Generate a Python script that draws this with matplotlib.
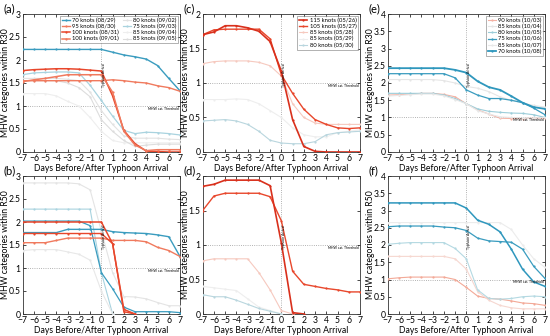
import matplotlib
matplotlib.use("Agg")
import matplotlib.pyplot as plt

plt.rcParams["font.family"] = ["Lato", "DejaVu Sans"]

days = list(range(-7, 8))
xticks = list(range(-7, 8))

# colours
TEAL = "#3a9cbf"
RED = "#e8472c"
SALMON = "#f07a5e"
LBLUE = "#a9d3df"
PALE = "#e2e2e2"
PINK = "#f6c9bf"

# ---- (a) R30, Aug/Sep ----
a_labels = ["70 knots (08/29)", "95 knots (08/30)", "100 knots (08/31)", "100 knots (09/01)",
            "80 knots (09/02)", "75 knots (09/03)", "85 knots (09/04)", "85 knots (09/05)"]
a_vals = [
    [2.23, 2.23, 2.23, 2.23, 2.23, 2.23, 2.23, 2.23, 2.17, 2.11, 2.07, 2.02, 1.88, 1.60, 1.33],
    [1.55, 1.55, 1.55, 1.55, 1.55, 1.55, 1.55, 1.55, 1.57, 1.55, 1.52, 1.50, 1.44, 1.40, 1.32],
    [1.77, 1.79, 1.80, 1.81, 1.81, 1.80, 1.78, 1.76, 1.22, 0.47, 0.18, 0.02, 0.01, 0.00, 0.00],
    [1.53, 1.57, 1.60, 1.64, 1.68, 1.68, 1.68, 1.68, 1.30, 0.45, 0.15, 0.03, 0.05, 0.05, 0.05],
    [1.60, 1.60, 1.60, 1.60, 1.58, 1.55, 1.30, 0.90, 0.60, 0.35, 0.30, 0.30, 0.30, 0.28, 0.27],
    [1.68, 1.72, 1.73, 1.74, 1.74, 1.72, 1.45, 1.12, 0.78, 0.47, 0.40, 0.43, 0.42, 0.40, 0.37],
    [1.27, 1.27, 1.27, 1.22, 1.10, 1.00, 0.75, 0.45, 0.25, 0.20, 0.20, 0.20, 0.20, 0.20, 0.20],
    [1.55, 1.55, 1.55, 1.55, 1.50, 1.40, 1.20, 0.70, 0.45, 0.25, 0.12, 0.15, 0.17, 0.17, 0.17],
]
# ---- (b) R50, Aug/Sep ----
b_vals = [
    [1.77, 1.77, 1.77, 1.77, 1.84, 1.84, 1.84, 1.84, 1.79, 1.77, 1.76, 1.75, 1.72, 1.68, 1.25],
    [1.55, 1.55, 1.55, 1.60, 1.65, 1.65, 1.65, 1.65, 1.60, 1.60, 1.60, 1.57, 1.45, 1.38, 1.25],
    [2.00, 2.00, 2.00, 2.00, 2.00, 2.00, 2.00, 2.00, 1.53, 0.10, 0.00, None, None, None, None],
    [1.75, 1.75, 1.75, 1.75, 1.75, 1.75, 1.75, 1.75, 1.53, 0.05, 0.00, None, None, None, None],
    [2.28, 2.28, 2.28, 2.28, 2.28, 2.28, 2.28, 0.90, 0.00, None, None, None, None, None, None],
    [2.02, 2.02, 2.02, 2.02, 2.02, 2.02, 1.92, 0.90, 0.55, 0.15, 0.05, 0.05, 0.05, 0.05, 0.03],
    [1.38, 1.40, 1.40, 1.40, 1.35, 1.30, 1.17, 0.50, 0.00, None, None, None, None, None, None],
    [2.85, 2.85, 2.85, 2.85, 2.85, 2.83, 2.70, 1.80, 0.90, 0.38, 0.37, 0.33, 0.25, 0.18, 0.18],
]
# ---- (c) R30, May ----
c_labels = ["115 knots (05/26)", "105 knots (05/27)", "85 knots (05/28)", "85 knots (05/29)",
            "80 knots (05/30)"]
c_vals = [
    [1.70, 1.74, 1.83, 1.83, 1.80, 1.75, 1.60, 1.17, 0.47, 0.08, 0.01, 0.00, 0.00, 0.00, 0.00],
    [1.70, 1.77, 1.78, 1.78, 1.78, 1.78, 1.64, 1.12, 0.85, 0.62, 0.47, 0.40, 0.35, 0.34, 0.35],
    [1.28, 1.31, 1.32, 1.32, 1.32, 1.30, 1.25, 1.10, 0.70, 0.50, 0.42, 0.40, 0.40, 0.40, 0.40],
    [0.76, 0.76, 0.76, 0.77, 0.76, 0.70, 0.60, 0.50, 0.35, 0.25, 0.22, 0.22, 0.28, 0.30, 0.32],
    [0.45, 0.46, 0.47, 0.45, 0.40, 0.30, 0.17, 0.13, 0.12, 0.12, 0.15, 0.25, 0.28, 0.29, 0.30],
]
# ---- (d) R50, May ----
d_vals = [
    [1.85, 1.88, 1.94, 1.94, 1.94, 1.94, 1.86, 1.03, 0.02, 0.00, None, None, None, None, None],
    [1.50, 1.71, 1.75, 1.75, 1.75, 1.75, 1.70, 1.35, 0.62, 0.43, 0.40, 0.37, 0.35, 0.32, 0.32],
    [0.77, 0.80, 0.80, 0.80, 0.80, 0.60, 0.35, 0.05, 0.00, None, None, None, None, None, None],
    [0.40, 0.38, 0.36, 0.34, 0.22, 0.10, 0.05, 0.00, None, None, None, None, None, None, None],
    [0.28, 0.25, 0.25, 0.20, 0.14, 0.08, 0.04, 0.00, None, None, None, None, None, None, None],
]
# ---- (e) R30, Oct ----
e_labels = ["90 knots (10/03)", "85 knots (10/04)", "80 knots (10/05)", "75 knots (10/06)",
            "85 knots (10/07)", "70 knots (10/08)"]
e_vals = [
    [1.65, 1.66, 1.68, 1.70, 1.70, 1.67, 1.60, 1.40, 1.22, 1.10, 0.98, 0.97, 0.97, 0.98, 0.98],
    [2.10, 2.10, 2.10, 2.10, 2.10, 2.07, 2.00, 1.90, 1.85, 1.75, 1.60, 1.50, 1.42, 1.35, 1.30],
    [1.70, 1.70, 1.70, 1.70, 1.70, 1.65, 1.55, 1.40, 1.25, 1.18, 1.15, 1.13, 1.12, 1.08, 1.00],
    [2.27, 2.27, 2.27, 2.27, 2.27, 2.27, 2.15, 1.80, 1.65, 1.55, 1.55, 1.50, 1.43, 1.27, 1.08],
    [1.62, 1.64, 1.66, 1.68, 1.68, 1.63, 1.52, 1.40, 1.20, 1.10, 1.02, 1.00, 0.98, 0.98, 1.00],
    [2.43, 2.43, 2.43, 2.43, 2.43, 2.43, 2.38, 2.30, 2.05, 1.88, 1.80, 1.62, 1.43, 1.30, 1.25],
]
# ---- (f) R50, Oct ----
f_vals = [
    [1.02, 1.05, 1.07, 1.07, 1.07, 1.07, 1.00, 0.77, 0.52, 0.45, 0.43, 0.38, 0.32, 0.30, 0.25],
    [1.67, 1.67, 1.67, 1.67, 1.67, 1.67, 1.60, 1.30, 0.65, 0.40, 0.25, 0.18, 0.15, 0.15, 0.15],
    [2.02, 2.05, 2.07, 2.07, 2.07, 2.07, 1.90, 1.60, 0.70, 0.45, 0.43, 0.45, 0.50, 0.52, 0.50],
    [2.53, 2.55, 2.55, 2.55, 2.55, 2.52, 2.50, 2.42, 2.20, 2.12, 2.10, 2.08, 1.88, 1.38, 1.03],
    [2.65, 2.65, 2.65, 2.65, 2.65, 2.65, 2.65, 2.65, 2.65, 2.65, 2.65, 2.45, 2.00, 1.60, 1.35],
    [3.22, 3.22, 3.22, 3.22, 3.22, 3.22, 3.22, 3.07, 2.72, 2.60, 2.38, 1.88, 1.30, 0.93, 0.80],
]

a_styles = [(TEAL, 1.0), (SALMON, 1.0), (RED, 1.1), (SALMON, 1.1),
            (PALE, 0.8), (LBLUE, 0.9), ("#eeeeee", 0.8), ("#dddddd", 0.8)]
b_styles = [(TEAL, 1.0), (SALMON, 1.0), (RED, 1.1), (RED, 1.0),
            (LBLUE, 0.8), (TEAL, 0.9), ("#e8e8e8", 0.8), ("#e4e4e4", 0.8)]
c_styles = [("#d9301c", 1.2), (RED, 1.0), (PINK, 0.8), ("#eeeeee", 0.8), ("#b9d6de", 0.8)]
e_styles = [("#f4b2a4", 0.8), ("#e6e6e6", 0.8), ("#9ccdd9", 0.8), (TEAL, 0.9),
            ("#e8e8e8", 0.8), ("#2f97bd", 1.3)]
f_styles = [("#f3a997", 0.8), ("#f6d7d0", 0.8), ("#b4d9e2", 0.8), (TEAL, 0.9),
            ("#ececec", 0.8), ("#2f97bd", 1.1)]

W, H = 550, 336
fig = plt.figure(figsize=(W / 100, H / 100), dpi=100)

lefts = [22.7, 202.7, 387.7]
width = 157.3
tops = [14, 176]
height = 138

panels = [
    ("(a)", 0, 0, a_vals, a_styles, a_labels, 3, "R30"),
    ("(b)", 1, 0, b_vals, b_styles, None, 3, "R50"),
    ("(c)", 0, 1, c_vals, c_styles, c_labels, 2, "R30"),
    ("(d)", 1, 1, d_vals, c_styles, None, 2, "R50"),
    ("(e)", 0, 2, e_vals, e_styles, e_labels, 4, "R30"),
    ("(f)", 1, 2, f_vals, f_styles, None, 4, "R50"),
]

FS = 6.2
for tag, row, col, vals, styles, labels, ymax, rad in panels:
    ax = fig.add_axes([lefts[col] / W, 1 - (tops[row] + height) / H, width / W, height / H])
    # faint lines first, strong ones on top
    order = sorted(range(len(vals)), key=lambda i: styles[i][1])
    handles = {}
    for i in order:
        color, lw = styles[i]
        xs = [d for d, v in zip(days, vals[i]) if v is not None]
        ys = [v for v in vals[i] if v is not None]
        h, = ax.plot(xs, ys, color=color, lw=lw, marker="o", ms=1.6, mew=0,
                     zorder=2 + lw)
        handles[i] = h
    ax.axvline(0, color="#999999", lw=0.6, ls=":", zorder=1)
    ax.axhline(1, color="#999999", lw=0.6, ls=":", zorder=1)
    ax.text(0.25, ymax * 0.56, "Typhoon Arrival", rotation=90, fontsize=2.4,
            ha="center", va="center", zorder=10)
    ax.text(6.9, 0.985, "MHW cat. Threshold", fontsize=2.4, ha="right", va="top",
            zorder=10)
    ax.set_xlim(-7, 7)
    ax.set_ylim(0, ymax)
    ax.set_xticks(xticks)
    ax.set_xticklabels([str(t).replace("-", "\u2212") for t in xticks])
    yt = [k * 0.5 for k in range(int(ymax * 2) + 1)]
    ax.set_yticks(yt)
    ax.set_yticklabels(["%g" % t for t in yt])
    ax.tick_params(direction="in", length=2, width=0.5, labelsize=FS, pad=1.5,
                   top=True, right=True)
    for s in ax.spines.values():
        s.set_linewidth(0.6)
        s.set_color("#333333")
    ax.set_ylabel("MHW categories within " + rad, fontsize=FS)
    ax.yaxis.set_label_coords(-0.083, 0.5)
    ax.set_xlabel("Days Before/After Typhoon Arrival", fontsize=FS, labelpad=1)
    ax.text(-0.125, 1.0, tag, transform=ax.transAxes, fontsize=8, ha="left",
            va="bottom")
    if labels:
        hs = [handles[i] for i in range(len(labels))]
        ncol = 2 if len(labels) > 6 else 1
        leg = ax.legend(hs, labels, loc="upper right", ncol=ncol, fontsize=4.2,
                        frameon=True, fancybox=False, borderpad=0.3,
                        handlelength=1.4, handletextpad=0.4, labelspacing=0.15,
                        columnspacing=0.6, borderaxespad=0.3)
        leg.get_frame().set_linewidth(0.4)
        leg.get_frame().set_edgecolor("#555555")

fig.savefig("out.png", dpi=100)
